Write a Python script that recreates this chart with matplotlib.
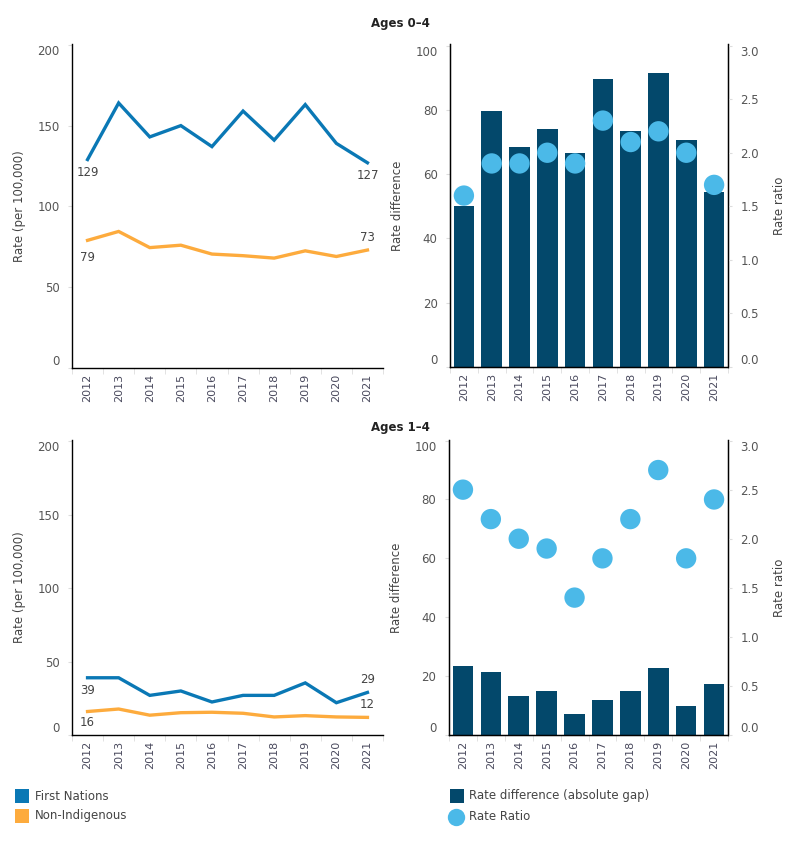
import matplotlib
matplotlib.use("Agg")
import matplotlib.pyplot as plt
from matplotlib.lines import Line2D
from matplotlib.patches import Rectangle

plt.rcParams['font.family'] = ['DejaVu Sans']

years = ["2012", "2013", "2014", "2015", "2016", "2017", "2018", "2019", "2020", "2021"]

# Ages 0-4
fn_04 = [129, 164, 143, 150, 137, 159, 141, 163, 139, 127]
ni_04 = [79, 84.5, 74.5, 76, 70.5, 69.5, 68, 72.5, 69, 73]
diff_04 = [50, 79.5, 68.5, 74, 66.5, 89.5, 73.5, 91.5, 70.5, 54.5]
ratio_04 = [1.6, 1.9, 1.9, 2.0, 1.9, 2.3, 2.1, 2.2, 2.0, 1.7]

# Ages 1-4
fn_14 = [39, 39, 27, 30, 22.5, 27, 27, 35.5, 22, 29]
ni_14 = [16, 17.7, 13.5, 15.2, 15.5, 14.8, 12.3, 13.2, 12.3, 12]
diff_14 = [23.5, 21.5, 13.4, 14.8, 7, 12, 14.8, 22.6, 10, 17.2]
ratio_14 = [2.5, 2.2, 2.0, 1.9, 1.4, 1.8, 2.2, 2.7, 1.8, 2.4]

legend_left = ["First Nations", "Non-Indigenous"]
legend_right = ["Rate difference (absolute gap)", "Rate Ratio"]

C_FN = "#0a78b5"
C_NI = "#fdab3d"
C_BAR = "#03486b"
C_DOT = "#4bb9e8"
TXT = "#444444"
TICK = "#555555"

W, H = 800, 850
fig = plt.figure(figsize=(8, 8.5), dpi=100)

def rect(l, t, r, b):
    return [l / W, 1 - b / H, (r - l) / W, (b - t) / H]

x = list(range(len(years)))

def style_axis(ax, right=False):
    ax.spines['top'].set_visible(False)
    ax.spines['right'].set_visible(right)
    for s in ['left', 'bottom', 'right']:
        ax.spines[s].set_color('black')
        ax.spines[s].set_linewidth(1.0)
    ax.set_xlim(-0.5, 9.5)
    ax.set_xticks(x)
    ax.set_xticklabels(years, rotation=90, fontsize=8, color="#4a4a5e")
    ax.set_xticks([i + 0.5 for i in range(-1, 10)], minor=True)
    ax.tick_params(axis='x', which='major', length=0, pad=4)
    ax.tick_params(axis='x', which='minor', length=4, color='#dddddd')
    ax.tick_params(axis='y', length=3, color='#dddddd', labelsize=8.5, labelcolor=TICK, pad=6)

def fix_ends(ax):
    labs = ax.get_yticklabels()
    labs[0].set_va('bottom')
    labs[-1].set_va('top')

def line_panel(box, fn, ni, ymax, annots):
    ax = fig.add_axes(rect(*box))
    ax.plot(x, fn, color=C_FN, lw=2.4, solid_joinstyle='miter')
    ax.plot(x, ni, color=C_NI, lw=2.4, solid_joinstyle='miter')
    ax.set_ylim(0, ymax)
    ax.set_yticks([0, 50, 100, 150, 200])
    style_axis(ax)
    fix_ends(ax)
    ax.set_ylabel("Rate (per 100,000)", fontsize=8.5, color=TXT, labelpad=8)
    for xi, yi, txt, off in annots:
        ax.annotate(txt, (xi, yi), xytext=(0, off), textcoords='offset points',
                    ha='center', va='center', fontsize=8.5, color=TXT)
    return ax

def bar_panel(box, diff, ratio, ymax):
    ax = fig.add_axes(rect(*box))
    ax.bar(x, diff, width=0.74, color=C_BAR, zorder=2)
    ax.set_ylim(0, ymax)
    ax.set_yticks([0, 20, 40, 60, 80, 100])
    style_axis(ax, right=True)
    fix_ends(ax)
    ax.set_ylabel("Rate difference", fontsize=8.5, color=TXT, labelpad=8)
    ax2 = ax.twinx()
    ax2.scatter(x, ratio, s=215, color=C_DOT, zorder=3, edgecolors='none')
    ax2.set_ylim(0, ymax * 0.03)
    ax2.set_yticks([0, 0.5, 1.0, 1.5, 2.0, 2.5, 3.0])
    ax2.set_yticklabels(["0.0", "0.5", "1.0", "1.5", "2.0", "2.5", "3.0"])
    ax2.spines['top'].set_visible(False)
    ax2.spines['right'].set_color('black')
    ax2.tick_params(axis='y', length=3, color='#dddddd', labelsize=8.5, labelcolor=TICK, pad=6)
    fix_ends(ax2)
    ax2.set_ylabel("Rate ratio", fontsize=8.5, color=TXT, labelpad=10)
    return ax, ax2

# Top row
line_panel((72, 44, 383, 368), fn_04, ni_04, 200.5,
           [(0, fn_04[0], "129", -9), (9, fn_04[9], "127", -9),
            (0, ni_04[0], "79", -12), (9, ni_04[9], "73", 9)])
bar_panel((450, 44, 728, 367), diff_04, ratio_04, 100.5)

# Bottom row
line_panel((72, 440, 383, 735), fn_14, ni_14, 201,
           [(0, fn_14[0], "39", -9), (9, fn_14[9], "29", 9),
            (0, ni_14[0], "16", -8), (9, ni_14[9], "12", 9)])
bar_panel((449, 440, 728, 735), diff_14, ratio_14, 100.2)

fig.text(400 / W, 1 - 23 / H, "Ages 0–4", ha='center', va='center',
         fontsize=8.5, fontweight='bold', color='#222222')
fig.text(400 / W, 1 - 428 / H, "Ages 1–4", ha='center', va='center',
         fontsize=8.5, fontweight='bold', color='#222222')

# Legends (drawn in figure pixel positions)
def square(px, cy, color):
    fig.add_artist(Rectangle((px / W, 1 - (cy + 7) / H), 14 / W, 14 / H,
                             transform=fig.transFigure, facecolor=color,
                             edgecolor='none'))

def label(px, cy, txt):
    fig.text(px / W, 1 - cy / H, txt, ha='left', va='center', fontsize=8.5, color=TXT)

square(15, 796, C_FN)
label(35, 796, legend_left[0])
square(15, 816, C_NI)
label(35, 816, legend_left[1])

square(450, 796, C_BAR)
label(469, 796, legend_right[0])
fig.add_artist(Line2D([455.5 / W], [1 - 816.5 / H], transform=fig.transFigure,
                      marker='o', markersize=12.5, markerfacecolor=C_DOT,
                      markeredgecolor='none', linestyle='none'))
label(469, 816, legend_right[1])

fig.savefig("out.png", dpi=100)
